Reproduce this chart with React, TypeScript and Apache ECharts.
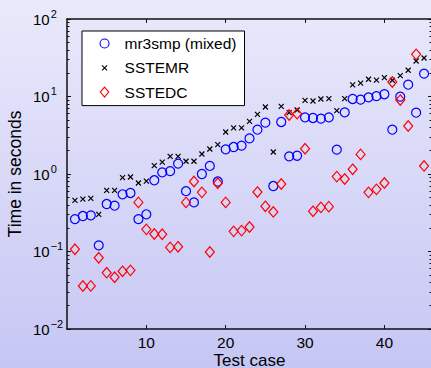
import React, { useEffect, useRef } from "react";
import * as echarts from "echarts";

const testCases = [1,2,3,4,5,6,7,8,9,10,11,12,13,14,15,16,17,18,19,20,21,22,23,24,25,26,27,28,29,30,31,32,33,34,35,36,37,38,39,40,41,42,43,44,45];

const mr3smp = [0.262,0.287,0.293,0.120,0.41,0.39,0.547,0.569,0.262,0.302,0.83,1.05,1.09,1.36,0.60,0.43,1.0,1.27,0.80,2.08,2.23,2.32,2.88,3.73,4.6,0.70,4.69,1.69,1.72,5.38,5.28,5.18,5.38,2.06,6.25,9.29,9.1,9.75,10.1,10.7,3.73,9.95,14.2,6.18,19.7];

const sstemr = [0.457,0.475,0.485,0.302,0.615,0.615,0.897,0.915,0.765,0.81,1.28,1.42,1.69,1.69,1.46,1.46,1.81,2.10,2.39,3.48,3.93,3.93,4.78,5.89,7.32,1.92,7.47,6.18,6.69,8.93,8.75,9.29,9.38,6.56,9.38,14.1,14.9,16.7,16.3,17.5,16.2,18.6,21.8,28.7,31.4];

const sstedc = [0.107,0.0359,0.036,0.083,0.0533,0.0465,0.0555,0.0571,0.43,0.193,0.168,0.167,0.113,0.115,0.43,0.80,0.58,0.0986,0.76,0.43,0.182,0.186,0.207,0.585,0.383,0.324,0.743,5.77,6.0,2.12,0.33,0.371,0.379,0.925,0.862,1.15,1.79,0.58,0.634,0.765,15.4,9.0,4.16,35.0,1.27];

const seriesNames = ["mr3smp (mixed)", "SSTEMR", "SSTEDC"];
const xTicks = [10, 20, 30, 40];
const yMajorTicks = [0.01, 0.1, 1, 10, 100];
const yMinorTicks = [
  0.02,0.03,0.04,0.05,0.06,0.07,0.08,0.09,
  0.2,0.3,0.4,0.5,0.6,0.7,0.8,0.9,
  2,3,4,5,6,7,8,9,
  20,30,40,50,60,70,80,90,
];

const FONT = "'Liberation Sans', Arial, Helvetica, sans-serif";
const CROSS = "path://M0,0M9,9M2,2L7,7M7,2L2,7";
// legend icons: invisible bounding points keep the 30x10 box, marker drawn centred
const LEG_CIRCLE = "path://M0,0M30,10M19.5,5A4.5,4.5,0,1,1,10.5,5A4.5,4.5,0,1,1,19.5,5Z";
const LEG_CROSS = "path://M0,0M30,10M12.5,2.5L17.5,7.5M17.5,2.5L12.5,7.5";
const LEG_DIAMOND = "path://M0,0M30,10M15,0L19.2,5L15,10L10.8,5Z";

export default function App() {
  const ref = useRef<HTMLDivElement>(null);
  useEffect(() => {
    if (!ref.current) return;
    const chart = echarts.init(ref.current, null, { renderer: "svg" });
    const toPts = (arr: number[]) => testCases.map((t, i) => [t, arr[i]]);
    const axisLine = { show: true, lineStyle: { color: "#111", width: 1.5 } };
    const yLabelFmt = (v: number) => {
      const e = Math.round(Math.log10(v));
      const s = e < 0 ? "\u2212" + Math.abs(e) : String(e);
      return `{b|10}{s|${s}}`;
    };
    const option: any = {
      animation: false,
      backgroundColor: new echarts.graphic.LinearGradient(0, 0, 0, 1, [
        { offset: 0, color: "#e9e9fb" },
        { offset: 1, color: "#c6c6f4" },
      ]),
      textStyle: { fontFamily: FONT },
      grid: { left: 67, top: 19, width: 365, height: 310, containLabel: false, outerBoundsMode: "none" },
      legend: {
        orient: "vertical",
        left: 82,
        top: 31,
        padding: [4, 8, 5, 7],
        itemGap: 7.3,
        itemWidth: 30,
        itemHeight: 10,
        backgroundColor: "#ffffff",
        borderColor: "#000",
        borderWidth: 1,
        borderRadius: 0,
        textStyle: { fontSize: 15.5, fontFamily: FONT, color: "#000", lineHeight: 17 },
        data: [
          { name: seriesNames[0], icon: LEG_CIRCLE, itemStyle: { color: "transparent", borderColor: "#0000ff", borderWidth: 1.1 } },
          { name: seriesNames[1], icon: LEG_CROSS, itemStyle: { color: "transparent", borderColor: "#000000", borderWidth: 1.1 } },
          { name: seriesNames[2], icon: LEG_DIAMOND, itemStyle: { color: "transparent", borderColor: "#ff0000", borderWidth: 1.1 } },
        ],
      },
      xAxis: [
        {
          type: "value",
          min: 0,
          max: 46,
          interval: 10,
          position: "bottom",
          axisLine,
          splitLine: { show: false },
          axisTick: { show: true, inside: true, length: 4, customValues: xTicks, lineStyle: { color: "#111" } },
          axisLabel: { customValues: xTicks, fontSize: 15.5, color: "#000", margin: 6, lineHeight: 14, fontFamily: FONT },
          name: "Test case",
          nameLocation: "middle",
          nameGap: 23,
          nameMoveOverlap: false,
          nameTextStyle: { fontSize: 17, color: "#000", fontFamily: FONT, verticalAlign: "top", lineHeight: 16 },
        },
        {
          type: "value",
          min: 0,
          max: 46,
          interval: 10,
          position: "top",
          axisLine,
          splitLine: { show: false },
          axisTick: { show: true, inside: true, length: 4, customValues: xTicks, lineStyle: { color: "#111" } },
          axisLabel: { show: false },
        },
      ],
      yAxis: [
        {
          type: "log",
          logBase: 10,
          min: 0.01,
          max: 100,
          position: "left",
          axisLine,
          splitLine: { show: false },
          axisTick: { show: true, inside: true, length: 4, customValues: yMajorTicks, lineStyle: { color: "#111" } },
          axisLabel: {
            customValues: yMajorTicks,
            formatter: yLabelFmt,
            align: "left",
            margin: 34,
            rich: {
              b: { fontSize: 15, fontFamily: FONT, color: "#000", lineHeight: 22 },
              s: { fontSize: 11, fontFamily: FONT, color: "#000", lineHeight: 12, verticalAlign: "top", padding: [0, 0, 0, 1] },
            },
          },
          name: "Time in seconds",
          nameLocation: "middle",
          nameGap: 43,
          nameMoveOverlap: false,
          nameTextStyle: { fontSize: 17.5, color: "#000", fontFamily: FONT },
        },
        {
          type: "log",
          logBase: 10,
          min: 0.01,
          max: 100,
          position: "left",
          axisLine: { show: false },
          splitLine: { show: false },
          axisTick: { show: true, inside: true, length: 2.5, customValues: yMinorTicks, lineStyle: { color: "#111" } },
          axisLabel: { show: false },
        },
        {
          type: "log",
          logBase: 10,
          min: 0.01,
          max: 100,
          position: "right",
          axisLine,
          splitLine: { show: false },
          axisTick: { show: true, inside: true, length: 4, customValues: yMajorTicks, lineStyle: { color: "#111" } },
          axisLabel: { show: false },
        },
        {
          type: "log",
          logBase: 10,
          min: 0.01,
          max: 100,
          position: "right",
          axisLine: { show: false },
          splitLine: { show: false },
          axisTick: { show: true, inside: true, length: 2.5, customValues: yMinorTicks, lineStyle: { color: "#111" } },
          axisLabel: { show: false },
        },
      ],
      series: [
        {
          name: seriesNames[0],
          type: "scatter",
          symbol: "circle",
          symbolSize: 9,
          xAxisIndex: 0,
          yAxisIndex: 0,
          itemStyle: { color: "transparent", borderColor: "#0000ff", borderWidth: 1.2, opacity: 1 },
          data: toPts(mr3smp),
        },
        {
          name: seriesNames[1],
          type: "scatter",
          symbol: CROSS,
          symbolSize: 9,
          xAxisIndex: 0,
          yAxisIndex: 0,
          itemStyle: { color: "transparent", borderColor: "#000000", borderWidth: 1.2, opacity: 1 },
          data: toPts(sstemr),
        },
        {
          name: seriesNames[2],
          type: "scatter",
          symbol: "diamond",
          symbolSize: [9, 10.5],
          xAxisIndex: 0,
          yAxisIndex: 0,
          itemStyle: { color: "transparent", borderColor: "#ff0000", borderWidth: 1.2, opacity: 1 },
          data: toPts(sstedc),
        },
      ],
    };
    chart.setOption(option);
    return () => chart.dispose();
  }, []);
  return (
    <div
      ref={ref}
      style={{ position: "absolute", left: 0, top: 0, width: 431, height: 368 }}
    />
  );
}
